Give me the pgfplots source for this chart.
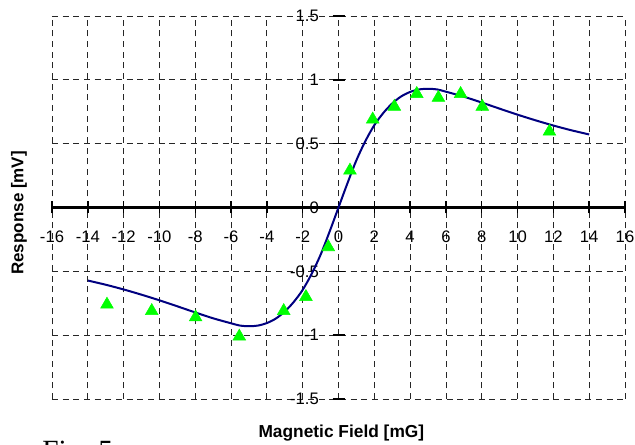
\documentclass[border=0pt]{standalone}
\usepackage{fontspec}
\setmainfont{Liberation Sans}
\newfontfamily\seriffont{Liberation Serif}
\usepackage{pgfplots}
\pgfplotsset{compat=1.18}
\definecolor{curveblue}{RGB}{0,0,128}
\definecolor{markgreen}{RGB}{0,255,0}

\begin{document}
\begin{tikzpicture}
\path[use as bounding box] (0,0) rectangle (476.25pt,333.75pt);
\begin{axis}[
    at={(39pt,34.5pt)}, anchor=south west,
    scale only axis,
    width=429.75pt, height=287.25pt,
    xmin=-16, xmax=16,
    ymin=-1.5, ymax=1.5,
    axis lines=middle,
    xtick={-16,-14,-12,-10,-8,-6,-4,-2,0,2,4,6,8,10,12,14,16},
    ytick={-1.5,-1,-0.5,0,0.5,1,1.5},
    hide obscured x ticks=false,
    hide obscured y ticks=false,
    grid=major,
    major grid style={black!85, line width=0.6pt, dash pattern=on 4.5pt off 3.5pt},
    x axis line style={-, line width=1.8pt},
    y axis line style={draw=none},
    tick align=center,
    major tick length=9pt,
    tick style={black, line width=1.1pt},
    /pgf/number format/assume math mode=true,
    xticklabel style={anchor=north, inner sep=0pt, yshift=-12.75pt,
        font=\fontsize{12.5}{14}\selectfont},
    yticklabel style={anchor=east, inner sep=0pt, xshift=-10pt,
        font=\fontsize{12.5}{14}\selectfont},
    xlabel={Magnetic Field [mG]},
    ylabel={Response [mV]},
    xlabel style={at={(axis description cs:0.505,-0.088)}, anchor=center,
        font=\bfseries\fontsize{13}{15}\selectfont},
    ylabel style={at={(axis description cs:-0.0576,0.486)}, anchor=center, rotate=90,
        font=\bfseries\fontsize{12.75}{15}\selectfont},
]
% measured points
\addplot[only marks, mark=triangle*, mark size=5.5pt, color=markgreen,
    mark options={draw=markgreen, fill=markgreen}] coordinates {
    (-12.93,-0.76) (-10.43,-0.81) (-7.98,-0.86) (-5.54,-1.01)
    (-3.06,-0.81) (-1.82,-0.70) (-0.57,-0.31) (0.64,0.29)
    (1.91,0.69) (3.12,0.79) (4.37,0.89) (5.58,0.86)
    (6.82,0.89) (8.03,0.79) (11.78,0.595)
};
% fitted curve
\addplot[curveblue, line width=1.5pt, smooth, no marks] coordinates {
    (-14,-0.572) (-13,-0.605) (-12,-0.642) (-11,-0.683) (-10,-0.727)
    (-9,-0.774) (-8,-0.822) (-7,-0.868) (-6,-0.907) (-5.5,-0.925)
    (-5,-0.930) (-4.5,-0.925) (-4,-0.905) (-3.5,-0.870) (-3,-0.815)
    (-2.5,-0.740) (-2,-0.645) (-1.5,-0.520) (-1,-0.370) (-0.5,-0.190)
    (0,0) (0.5,0.190) (1,0.370) (1.5,0.520) (2,0.645) (2.5,0.740)
    (3,0.815) (3.5,0.870) (4,0.905) (4.5,0.925) (5,0.930) (5.5,0.925)
    (6,0.907) (7,0.868) (8,0.822) (9,0.774) (10,0.727) (11,0.683)
    (12,0.642) (13,0.605) (14,0.572)
};
\end{axis}
\node[anchor=north west, inner sep=0pt, font=\seriffont\fontsize{22}{26}\selectfont]
    at (31.5pt,3pt) {Fig. 5};
\end{tikzpicture}
\end{document}
